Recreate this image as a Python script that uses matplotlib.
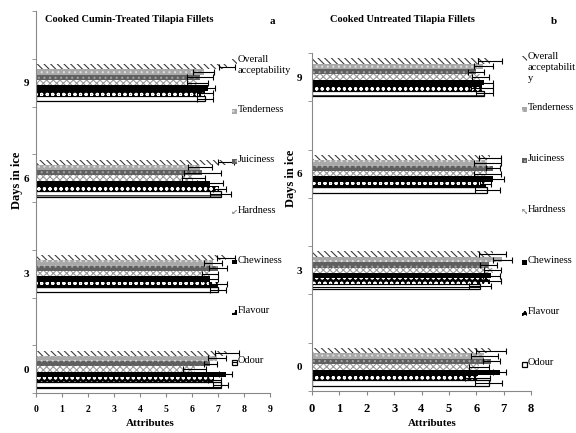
import numpy as np
import matplotlib
matplotlib.use("Agg")
import matplotlib.pyplot as plt
from matplotlib.patches import Rectangle

plt.rcParams['font.family'] = ['Liberation Serif', 'DejaVu Serif']
plt.rcParams['hatch.linewidth'] = 0.8

# Data: days in ice 0, 3, 6, 9
days = ['0', '3', '6', '9']
attributes = ['Odour', 'Flavour', 'Chewiness', 'Hardness', 'Juiciness',
              'Tenderness', 'Overall acceptability']

# Cumin-treated (panel a)
cumin_odour = [7.1, 7.0, 7.1, 6.5]
cumin_flavour = [6.85, 7.0, 7.05, 6.5]
cumin_chewiness = [7.3, 6.7, 6.7, 6.6]
cumin_hardness = [6.1, 6.7, 6.05, 6.2]
cumin_juiciness = [6.7, 7.0, 6.4, 6.3]
cumin_tenderness = [6.95, 6.8, 6.3, 6.45]
cumin_overall = [7.35, 7.3, 7.3, 7.35]

cumin_odour_err = [0.3, 0.3, 0.4, 0.3]
cumin_flavour_err = [0.25, 0.35, 0.25, 0.3]
cumin_chewiness_err = [0.25, 0.3, 0.5, 0.3]
cumin_hardness_err = [0.45, 0.3, 0.45, 0.4]
cumin_juiciness_err = [0.25, 0.35, 0.7, 0.5]
cumin_tenderness_err = [0.35, 0.35, 0.45, 0.4]
cumin_overall_err = [0.45, 0.35, 0.3, 0.3]

# Untreated (panel b)
untr_odour = [6.45, 6.15, 6.4, 6.3]
untr_flavour = [6.05, 6.5, 6.35, 6.2]
untr_chewiness = [6.85, 6.55, 6.6, 6.3]
untr_hardness = [6.1, 6.6, 6.4, 6.15]
untr_juiciness = [6.55, 6.45, 6.6, 6.0]
untr_tenderness = [6.3, 6.95, 6.4, 6.25]
untr_overall = [6.55, 6.6, 6.5, 6.5]

untr_odour_err = [0.5, 0.4, 0.45, 0.3]
untr_flavour_err = [0.45, 0.4, 0.2, 0.4]
untr_chewiness_err = [0.25, 0.3, 0.4, 0.3]
untr_hardness_err = [0.35, 0.3, 0.5, 0.3]
untr_juiciness_err = [0.3, 0.3, 0.25, 0.3]
untr_tenderness_err = [0.5, 0.35, 0.5, 0.35]
untr_overall_err = [0.55, 0.5, 0.4, 0.45]

cumin_vals = [cumin_odour, cumin_flavour, cumin_chewiness, cumin_hardness,
              cumin_juiciness, cumin_tenderness, cumin_overall]
cumin_errs = [cumin_odour_err, cumin_flavour_err, cumin_chewiness_err,
              cumin_hardness_err, cumin_juiciness_err, cumin_tenderness_err,
              cumin_overall_err]
untr_vals = [untr_odour, untr_flavour, untr_chewiness, untr_hardness,
             untr_juiciness, untr_tenderness, untr_overall]
untr_errs = [untr_odour_err, untr_flavour_err, untr_chewiness_err,
             untr_hardness_err, untr_juiciness_err, untr_tenderness_err,
             untr_overall_err]

# fill pattern per series
styles = [
    dict(facecolor='white', edgecolor='black', hatch='--', lw=0.9),
    dict(facecolor='black', edgecolor='white', hatch='ooo', lw=0),
    dict(facecolor='black', edgecolor='black', hatch=None, lw=0),
    dict(facecolor='white', edgecolor='#9a9a9a', hatch='xxxxx', lw=0),
    dict(facecolor='#5f5f5f', edgecolor='#a0a0a0', hatch='...', lw=0),
    dict(facecolor='#a8a8a8', edgecolor='#dddddd', hatch='...', lw=0),
    dict(facecolor='white', edgecolor='#3a3a3a', hatch='\\\\\\\\\\', lw=0),
]

W, H = 576, 433
fig = plt.figure(figsize=(W / 100, H / 100), dpi=100)


def px_axes(x0, x1, ytop, ybot):
    return fig.add_axes([x0 / W, (H - ybot) / H, (x1 - x0) / W, (ybot - ytop) / H])


def draw_panel(ax, vals, errs, ncat, xmax, tick_fs, ypad):
    bh = 0.78 / len(vals)
    rows = np.arange(len(days)) * 2
    for i, (v, e) in enumerate(zip(vals, errs)):
        y = rows - 0.39 + (i + 0.5) * bh
        st = styles[i]
        ax.barh(y, v, height=bh, xerr=e, facecolor=st['facecolor'],
                edgecolor=st['edgecolor'], hatch=st['hatch'], linewidth=st['lw'],
                error_kw=dict(ecolor='black', elinewidth=0.8, capsize=2.2, capthick=0.8))
    ax.set_xlim(0, xmax)
    ax.set_ylim(-0.5, ncat - 0.5)
    ax.set_xticks(range(xmax + 1))
    ax.set_yticks(rows)
    ax.set_yticklabels(days)
    ax.set_yticks(np.arange(ncat + 1) - 0.5, minor=True)
    ax.tick_params(axis='y', which='major', length=0, pad=ypad, labelsize=8)
    ax.tick_params(axis='y', which='minor', length=3, color='#888888', direction='out')
    ax.tick_params(axis='x', length=3, color='#888888', labelsize=tick_fs, pad=6)
    for lab in ax.get_xticklabels() + ax.get_yticklabels():
        lab.set_fontweight('bold')
    for s in ['top', 'right']:
        ax.spines[s].set_visible(False)
    for s in ['left', 'bottom']:
        ax.spines[s].set_color('#888888')
        ax.spines[s].set_linewidth(0.8)


def draw_legend(labels, x, y0, step):
    for i, lab in enumerate(labels):
        idx = len(styles) - 1 - i
        st = styles[idx]
        y = y0 + i * step
        r = Rectangle((x / W, (H - y - 2.5) / H), 4.5 / W, 4.5 / H,
                      transform=fig.transFigure, facecolor=st['facecolor'],
                      edgecolor=st['edgecolor'], hatch=st['hatch'],
                      linewidth=st['lw'])
        fig.add_artist(r)
        fig.text((x + 6) / W, (H - y + 6) / H, lab, fontsize=7.5, va='top',
                 ha='left', linespacing=1.3)


ax1 = px_axes(36, 270, 11, 393)
draw_panel(ax1, cumin_vals, cumin_errs, 8, 9, 7, 5)
ax2 = px_axes(312, 531, 53, 391)
draw_panel(ax2, untr_vals, untr_errs, 7, 8, 9, 7)

left_labels = ['Overall\nacceptability', 'Tenderness', 'Juiciness', 'Hardness',
               'Chewiness', 'Flavour', 'Odour']
right_labels = ['Overall\nacceptabilit\ny', 'Tenderness', 'Juiciness', 'Hardness',
                'Chewiness', 'Flavour', 'Odour']
draw_legend(left_labels, 232, 61, 50.2)
draw_legend(right_labels, 522, 58, 51)

fig.text(45 / W, (H - 19) / H, 'Cooked Cumin-Treated Tilapia Fillets', fontsize=7.5,
         fontweight='bold', va='center', ha='left')
fig.text(270 / W, (H - 22) / H, 'a', fontsize=8, fontweight='bold', va='center')
fig.text(402 / W, (H - 20) / H, 'Cooked Untreated Tilapia Fillets', fontsize=7.5,
         fontweight='bold', va='center', ha='center')
fig.text(551 / W, (H - 22) / H, 'b', fontsize=8, fontweight='bold', va='center')

fig.text(17 / W, (H - 180) / H, 'Days in ice', fontsize=9, fontweight='bold',
         rotation=90, va='center', ha='center')
fig.text(291 / W, (H - 178) / H, 'Days in ice', fontsize=9, fontweight='bold',
         rotation=90, va='center', ha='center')
fig.text(150 / W, (H - 424) / H, 'Attributes', fontsize=8, fontweight='bold',
         va='center', ha='center')
fig.text(432 / W, (H - 424) / H, 'Attributes', fontsize=8, fontweight='bold',
         va='center', ha='center')

fig.savefig('out.png', dpi=100)
